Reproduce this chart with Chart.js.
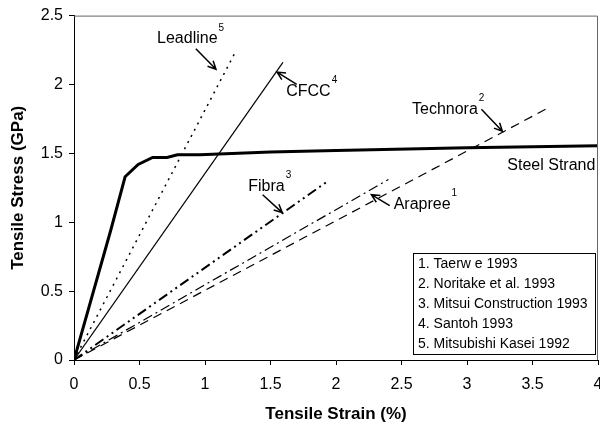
<!DOCTYPE html>
<html>
<head>
<meta charset="utf-8">
<title>Tensile stress vs strain</title>
<script src="https://cdn.jsdelivr.net/npm/chart.js@4.4.0/dist/chart.umd.min.js"></script>
<style>
  body { margin: 0; background: #fff; }
  #wrap { width: 600px; height: 425px; }
</style>
</head>
<body>
<div id="wrap"><canvas id="stressChart" width="600" height="425"></canvas></div>
<script>
// values: strain in %, stress in GPa
const steelStrain = [0, 0.28, 0.39, 0.49, 0.60, 0.71, 0.79, 0.96, 1.5, 2, 3, 4];
const steelStress = [0, 0.94, 1.33, 1.42, 1.47, 1.47, 1.49, 1.49, 1.51, 1.52, 1.54, 1.555];
const leadlineStrain = [0, 1.24];
const leadlineStress = [0, 2.25];
const cfccStrain = [0, 1.595];
const cfccStress = [0, 2.16];
const technoraStrain = [0, 3.6];
const technoraStress = [0, 1.82];
const fibraStrain = [0, 1.94];
const fibraStress = [0, 1.30];
const arapreeStrain = [0, 2.4];
const arapreeStress = [0, 1.31];

const xTicks = [0, 0.5, 1, 1.5, 2, 2.5, 3, 3.5, 4];
const yTicks = [0, 0.5, 1, 1.5, 2, 2.5];

const refNotes = [
    '1. Taerw e 1993',
    '2. Noritake et al. 1993',
    '3. Mitsui Construction 1993',
    '4. Santoh 1993',
    '5. Mitsubishi Kasei 1992'
];

// label text, reference number and arrow (tail -> head), in data units
const callouts = [
    { text: 'Leadline', sup: '5', x: 0.634, y: 2.33, from: [0.93, 2.26], to: [1.084, 2.11] },
    { text: 'CFCC', sup: '4', x: 1.62, y: 1.95, from: [1.70, 2.00], to: [1.55, 2.09] },
    { text: 'Technora', sup: '2', x: 2.58, y: 1.82, from: [3.11, 1.82], to: [3.27, 1.66] },
    { text: 'Fibra', sup: '3', x: 1.33, y: 1.26, from: [1.44, 1.20], to: [1.59, 1.07] },
    { text: 'Arapree', sup: '1', x: 2.44, y: 1.13, from: [2.41, 1.12], to: [2.27, 1.20] }
];

const FONT = '"Liberation Sans", Arial, sans-serif';

function pts(xs, ys) {
    return xs.map((x, i) => ({ x: x, y: ys[i] }));
}

const annotationPlugin = {
    id: 'annotations',
    afterDatasetsDraw(chart) {
        const ctx = chart.ctx;
        const xs = chart.scales.x;
        const ys = chart.scales.y;
        const area = chart.chartArea;
        ctx.save();

        // frame on top and right
        ctx.strokeStyle = '#666';
        ctx.lineWidth = 1;
        ctx.beginPath();
        ctx.moveTo(area.left, area.top + 0.5);
        ctx.lineTo(area.right - 0.5, area.top + 0.5);
        ctx.lineTo(area.right - 0.5, area.bottom);
        ctx.stroke();

        ctx.fillStyle = '#000';
        ctx.strokeStyle = '#000';
        ctx.textBaseline = 'middle';
        callouts.forEach(c => {
            const px = xs.getPixelForValue(c.x);
            const py = ys.getPixelForValue(c.y);
            ctx.font = '16px ' + FONT;
            ctx.textAlign = 'left';
            ctx.fillText(c.text, px, py);
            const w = ctx.measureText(c.text).width;
            ctx.font = '10px ' + FONT;
            ctx.fillText(c.sup, px + w + 1, py - 11);

            const x1 = xs.getPixelForValue(c.from[0]);
            const y1 = ys.getPixelForValue(c.from[1]);
            const x2 = xs.getPixelForValue(c.to[0]);
            const y2 = ys.getPixelForValue(c.to[1]);
            const ang = Math.atan2(y2 - y1, x2 - x1);
            ctx.lineWidth = 1.5;
            ctx.beginPath();
            ctx.moveTo(x1, y1);
            ctx.lineTo(x2, y2);
            ctx.moveTo(x2 - 9 * Math.cos(ang - 0.45), y2 - 9 * Math.sin(ang - 0.45));
            ctx.lineTo(x2, y2);
            ctx.lineTo(x2 - 9 * Math.cos(ang + 0.45), y2 - 9 * Math.sin(ang + 0.45));
            ctx.stroke();
        });

        ctx.font = '16px ' + FONT;
        ctx.textAlign = 'right';
        ctx.fillText('Steel Strand', xs.getPixelForValue(3.98), ys.getPixelForValue(1.41));

        // reference box
        const bx = area.right - 185, by = area.bottom - 107, bw = 182, bh = 101;
        ctx.fillStyle = '#fff';
        ctx.fillRect(bx, by, bw, bh);
        ctx.lineWidth = 1;
        ctx.strokeRect(bx + 0.5, by + 0.5, bw, bh);
        ctx.fillStyle = '#000';
        ctx.font = '14px ' + FONT;
        ctx.textAlign = 'left';
        refNotes.forEach((t, i) => {
            ctx.fillText(t, bx + 5, by + 11 + i * 20);
        });
        ctx.restore();
    }
};

const ctx = document.getElementById('stressChart').getContext('2d');
const stressChart = new Chart(ctx, {
    type: 'line',
    data: {
        datasets: [
            { label: 'Steel Strand', data: pts(steelStrain, steelStress), borderColor: '#000', borderWidth: 3 },
            { label: 'Leadline', data: pts(leadlineStrain, leadlineStress), borderColor: '#000', borderWidth: 1.5, borderDash: [2, 5] },
            { label: 'CFCC', data: pts(cfccStrain, cfccStress), borderColor: '#000', borderWidth: 1.2 },
            { label: 'Technora', data: pts(technoraStrain, technoraStress), borderColor: '#000', borderWidth: 1.2, borderDash: [9, 6] },
            { label: 'Fibra', data: pts(fibraStrain, fibraStress), borderColor: '#000', borderWidth: 2, borderDash: [10, 4, 2, 4, 2, 4] },
            { label: 'Arapree', data: pts(arapreeStrain, arapreeStress), borderColor: '#000', borderWidth: 1.2, borderDash: [10, 4, 2, 4] }
        ]
    },
    options: {
        responsive: false,
        animation: false,
        layout: { padding: { top: 12, right: 2, left: 0, bottom: 0 } },
        elements: {
            point: { radius: 0 },
            line: { tension: 0, fill: false }
        },
        plugins: {
            legend: { display: false },
            tooltip: { enabled: false }
        },
        scales: {
            x: {
                type: 'linear',
                min: 0,
                max: 4,
                afterBuildTicks: s => { s.ticks = xTicks.map(v => ({ value: v })); },
                afterFit: s => { s.height = 65; s.paddingLeft = 0; s.paddingRight = 0; },
                grid: { drawOnChartArea: false, drawTicks: true, tickLength: 5, color: '#000' },
                border: { color: '#000', width: 1 },
                ticks: {
                    color: '#000',
                    padding: 10,
                    maxRotation: 0,
                    font: { family: FONT, size: 16 },
                    callback: v => String(v)
                },
                title: {
                    display: true,
                    text: 'Tensile Strain (%)',
                    color: '#000',
                    padding: { top: 0, bottom: 0 },
                    font: { family: FONT, size: 17, weight: 'bold' }
                }
            },
            y: {
                type: 'linear',
                min: 0,
                max: 2.5,
                afterBuildTicks: s => { s.ticks = yTicks.map(v => ({ value: v })); },
                afterFit: s => { s.width = 74; },
                grid: { drawOnChartArea: false, drawTicks: true, tickLength: 5, color: '#000' },
                border: { color: '#000', width: 1 },
                ticks: {
                    color: '#000',
                    padding: 6,
                    font: { family: FONT, size: 16 },
                    callback: v => String(v)
                },
                title: {
                    display: true,
                    text: 'Tensile Stress (GPa)',
                    color: '#000',
                    padding: { top: 8, bottom: 0 },
                    font: { family: FONT, size: 17, weight: 'bold' }
                }
            }
        }
    },
    plugins: [annotationPlugin]
});
</script>
</body>
</html>
